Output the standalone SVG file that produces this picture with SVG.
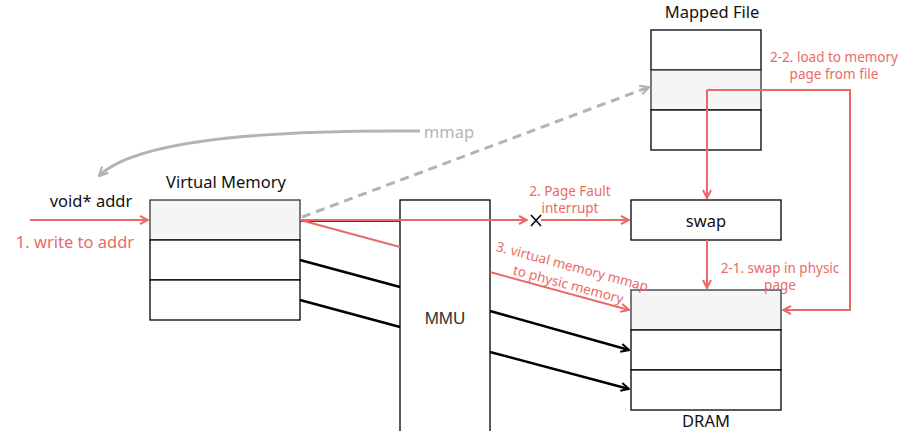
<svg xmlns="http://www.w3.org/2000/svg" width="912" height="431" viewBox="0 0 912 431">
<defs>
<style>
.box{fill:#ffffff;stroke:#000;stroke-width:1.3}
.hl{fill:#f5f5f5;stroke:#333;stroke-width:1.3}
.t{font-family:"Noto Sans","DejaVu Sans",sans-serif;font-size:16.5px;fill:#111;text-anchor:middle}
.r{font-family:"Noto Sans","DejaVu Sans",sans-serif;font-size:13.5px;fill:#ea6b66;text-anchor:middle}
.red{fill:none;stroke:#ea6b66;stroke-width:2}
.blk{fill:none;stroke:#000;stroke-width:2.5}
.gray{fill:none;stroke:#b3b3b3;stroke-width:3}
</style>
<marker id="ar" viewBox="0 0 10 10" refX="9" refY="5" markerWidth="10" markerHeight="10" markerUnits="userSpaceOnUse" orient="auto"><path d="M1,1 L9,5 L1,9" fill="none" stroke="#ea6b66" stroke-width="2"/></marker>
<marker id="ab" viewBox="0 0 10 10" refX="9" refY="5" markerWidth="10" markerHeight="10" markerUnits="userSpaceOnUse" orient="auto"><path d="M1,1 L9,5 L1,9" fill="none" stroke="#000" stroke-width="2"/></marker>
<marker id="ag" viewBox="0 0 10 10" refX="9" refY="5" markerWidth="11" markerHeight="11" markerUnits="userSpaceOnUse" orient="auto"><path d="M1,1 L9,5 L1,9" fill="none" stroke="#b3b3b3" stroke-width="2"/></marker>
</defs>
<rect width="912" height="431" fill="#ffffff"/>

<g id="virtual-memory">
<rect class="hl" x="150" y="200" width="150" height="40"/>
<rect class="box" x="150" y="240" width="150" height="40"/>
<rect class="box" x="150" y="280" width="150" height="40"/>
<text class="t" x="226" y="188">Virtual Memory</text>
</g>
<g id="void-addr"><text class="t" x="91" y="207">void* addr</text></g>
<g id="write-label"><text class="t" x="75" y="248" style="fill:#ea6b66">1. write to addr</text></g>

<g id="mmu">
<rect class="box" x="400" y="200" width="90" height="235"/>
<text class="t" x="445" y="324" style="font-family:'Liberation Sans',Arial,sans-serif;font-size:17px;fill:#333">MMU</text>
</g>

<g id="mapped-file">
<rect class="box" x="651" y="30" width="110" height="40"/>
<rect class="hl" x="651" y="70" width="110" height="40"/>
<rect class="box" x="651" y="110" width="110" height="40"/>
<text class="t" x="712" y="18">Mapped File</text>
</g>

<g id="swap">
<rect class="box" x="631" y="200" width="150" height="40"/>
<text class="t" x="706" y="227">swap</text>
</g>

<g id="dram">
<rect class="hl" x="631" y="290" width="150" height="40"/>
<rect class="box" x="631" y="330" width="150" height="40"/>
<rect class="box" x="631" y="370" width="150" height="40"/>
<text class="t" x="706" y="427">DRAM</text>
</g>

<g id="connectors">
<path class="gray" d="M420,131 C300,130 140,135 99,176" marker-end="url(#ag)"/>
<path class="gray" d="M302,217 L649,87" stroke-dasharray="9,6" marker-end="url(#ag)"/>
<path class="red" d="M30,220 L148,220" marker-end="url(#ar)"/>
<path d="M300,221 L400,221" stroke="#000" stroke-width="1.5"/>
<path class="red" d="M300,220 L527,220" marker-end="url(#ar)"/>
<path d="M531,215 L541,226 M541,215 L531,226" stroke="#000" stroke-width="1.5" fill="none"/>
<path class="red" d="M541,220 L629,220" marker-end="url(#ar)"/>
<path class="red" d="M300,220 L400,247"/>
<path class="red" d="M490,272 L629,310" marker-end="url(#ar)"/>
<path class="blk" d="M300,260 L400,287"/>
<path class="blk" d="M300,300 L400,327"/>
<path class="blk" d="M490,311 L629,350" marker-end="url(#ab)"/>
<path class="blk" d="M490,352 L629,389" marker-end="url(#ab)"/>
<path class="red" d="M707,90 L707,198" marker-end="url(#ar)"/>
<path class="red" d="M707,90 L850,90 L850,310 L783,310" marker-end="url(#ar)"/>
<path class="red" d="M707,240 L707,288" marker-end="url(#ar)"/>
</g>

<g id="labels">
<text class="t" x="449" y="138" style="fill:#b3b3b3">mmap</text>
<text class="r" x="570" y="196">2. Page Fault</text>
<text class="r" x="570" y="213">interrupt</text>
<text class="r" x="780" y="273">2-1. swap in physic</text>
<text class="r" x="780" y="290">page</text>
<text class="r" x="834" y="62">2-2. load to memory</text>
<text class="r" x="834" y="79">page from file</text>
<text class="r" transform="translate(571,271) rotate(15)">3. virtual memory mmap</text>
<text class="r" transform="translate(567,289) rotate(15)">to physic memory</text>
</g>
</svg>
